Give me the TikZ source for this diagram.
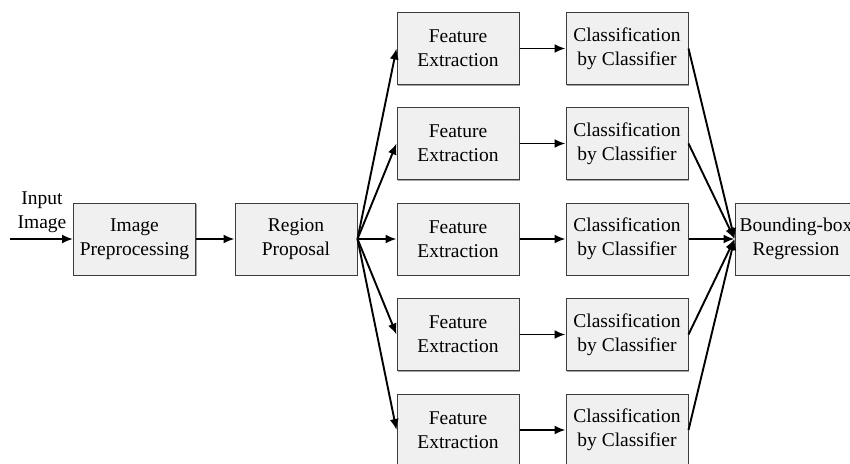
\documentclass[tikz,border=0pt]{standalone}
\usepackage{fontspec}
\setmainfont{Liberation Serif}
\usetikzlibrary{arrows.meta,shadows}
\definecolor{boxfill}{RGB}{240,240,240}
\definecolor{boxline}{RGB}{60,60,60}
\tikzset{
  stagebox/.style={draw=boxline, line width=1pt, fill=boxfill,
    minimum width=122pt, minimum height=72pt, inner sep=0pt,
    align=center, font=\fontsize{19.5}{24}\selectfont,
    drop shadow={shadow xshift=1.2pt, shadow yshift=-1.2pt, fill=black!45, opacity=0.8}},
  flow/.style={line width=1.9pt, -{Latex[length=11pt,width=9pt]}},
  lbl/.style={align=center, font=\fontsize{19.5}{24}\selectfont, inner sep=0pt}
}
\begin{document}
\begin{tikzpicture}[x=1pt,y=-1pt]
  \useasboundingbox (0,0) rectangle (850,463);

  % input label and start point
  \node[lbl] (inp) at (42,212) {Input\\Image};
  \coordinate (start) at (10,239);

  % main pipeline
  \node[stagebox] (pre) at (134.5,239) {Image\\Preprocessing};
  \node[stagebox] (rp)  at (296,239)   {Region\\Proposal};
  \node[stagebox] (bb)  at (796,239)   {Bounding-box\\Regression};

  % parallel branches
  \foreach \i/\y in {1/48.5,2/143.5,3/239,4/334.5,5/430}{
    \node[stagebox] (fe\i) at (458,\y) {Feature\\Extraction};
    \node[stagebox] (cl\i) at (627,\y) {Classification\\by Classifier};
  }

  % connectors
  \draw[flow] (start) -- (pre.west);
  \draw[flow] (pre.east) -- (rp.west);
  \foreach \i in {1,...,5}{
    \draw[flow] (rp.east) -- (fe\i.west);
    \draw[flow] (fe\i.east) -- (cl\i.west);
    \draw[flow] (cl\i.east) -- (bb.west);
  }
\end{tikzpicture}
\end{document}
